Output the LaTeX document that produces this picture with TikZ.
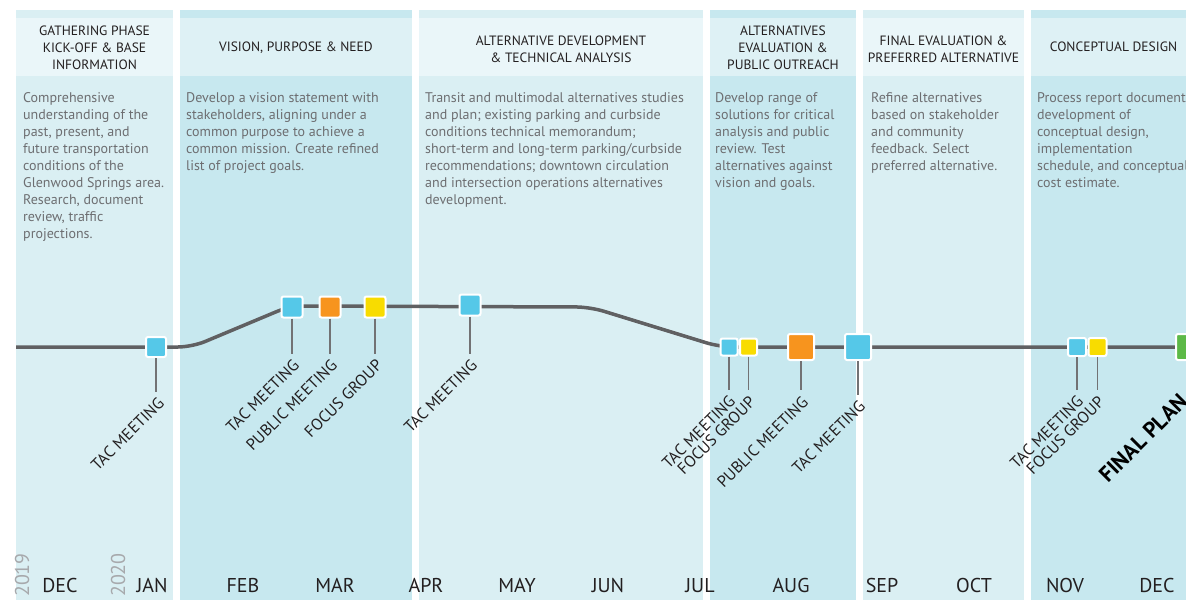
\documentclass[tikz,border=0pt]{standalone}
\usepackage{fontspec}
\setmainfont{PT Sans}
\definecolor{colLight}{HTML}{DAEFF3}
\definecolor{colDark}{HTML}{C7E8EF}
\definecolor{hdrLight}{HTML}{EAF6F9}
\definecolor{hdrDark}{HTML}{DEF1F5}
\definecolor{lineGray}{HTML}{606062}
\definecolor{leadGray}{HTML}{727274}
\definecolor{tacBlue}{HTML}{55C8E8}
\definecolor{pubOrange}{HTML}{F7941E}
\definecolor{focYellow}{HTML}{F8DC00}
\definecolor{finGreen}{HTML}{5CB947}
\definecolor{txtDark}{HTML}{231F20}
\definecolor{txtBody}{HTML}{6D6E71}
\definecolor{txtYear}{HTML}{A7A9AC}
\tikzset{
  mk/.style={draw=white, line width=2pt, rounded corners=2pt, minimum size=#1, inner sep=0pt},
  leader/.style={draw=leadGray, line width=1.3pt},
  lbl/.style={rotate=45, anchor=north east, inner sep=0pt, text=txtDark, font=\fontsize{16.2}{16.2}\selectfont},
  hdr/.style={align=center, anchor=north, inner sep=0pt, text=txtDark, font=\fontsize{13.5}{16.7}\selectfont},
  body/.style={align=left, anchor=north west, inner sep=0pt, text=txtBody, font=\fontsize{14}{17}\selectfont},
  month/.style={anchor=base, inner sep=0pt, text=txtDark, font=\fontsize{20}{20}\selectfont},
  year/.style={rotate=90, anchor=base west, inner sep=0pt, text=txtYear, font=\fontsize{20}{20}\selectfont},
}
\begin{document}
\begin{tikzpicture}[x=1pt,y=-1pt]
\useasboundingbox (0,0) rectangle (1186,600);
\clip (0,0) rectangle (1186,600);
% columns
\fill[colLight] (16,10) rectangle (173,600);
\fill[colDark] (180,10) rectangle (412,600);
\fill[colLight] (419,10) rectangle (703,600);
\fill[colDark] (710,10) rectangle (856,600);
\fill[colLight] (863,10) rectangle (1024,600);
\fill[colDark] (1031,10) rectangle (1196,600);
% header cells
\fill[hdrLight] (16,18) rectangle (173,76);
\fill[hdrDark] (180,18) rectangle (412,76);
\fill[hdrLight] (419,18) rectangle (703,76);
\fill[hdrDark] (710,18) rectangle (856,76);
\fill[hdrLight] (863,18) rectangle (1024,76);
\fill[hdrDark] (1031,18) rectangle (1196,76);
% headers
\node[hdr] (h1) at (94.5,26) {GATHERING PHASE\\KICK-OFF \& BASE\\INFORMATION};
\node[hdr] (h2) at (296,42) {VISION, PURPOSE \& NEED};
\node[hdr] (h3) at (561,36) {ALTERNATIVE DEVELOPMENT\\\& TECHNICAL ANALYSIS};
\node[hdr] (h4) at (783,26) {ALTERNATIVES\\EVALUATION \&\\PUBLIC OUTREACH};
\node[hdr] (h5) at (943.5,36) {FINAL EVALUATION \&\\PREFERRED ALTERNATIVE};
\node[hdr] (h6) at (1113.5,42) {CONCEPTUAL DESIGN};
% body texts
\node[body] (b1) at (23,92) {Comprehensive\\understanding of the\\past, present, and\\future transportation\\conditions of the\\Glenwood Springs area.\\Research, document\\review, traffic\\projections.};
\node[body] (b2) at (186,92) {Develop a vision statement with\\stakeholders, aligning under a\\common purpose to achieve a\\common mission. Create refined\\list of project goals.};
\node[body] (b3) at (425,92) {Transit and multimodal alternatives studies\\and plan; existing parking and curbside\\conditions technical memorandum;\\short-term and long-term parking/curbside\\recommendations; downtown circulation\\and intersection operations alternatives\\development.};
\node[body] (b4) at (715,92) {Develop range of\\solutions for critical\\analysis and public\\review. Test\\alternatives against\\vision and goals.};
\node[body] (b5) at (871,92) {Refine alternatives\\based on stakeholder\\and community\\feedback. Select\\preferred alternative.};
\node[body] (b6) at (1037,92) {Process report document\\development of\\conceptual design,\\implementation\\schedule, and conceptual\\cost estimate.};
% timeline
\coordinate (tlA) at (16,347);
\coordinate (tlZ) at (1200,347);
\draw[lineGray, line width=3.5pt, rounded corners=14pt] (tlA) -- (192,347) -- (290,306) -- (590,307) -- (720,347) -- (tlZ);
% markers
\node[mk=20pt, fill=tacBlue] (m1) at (156,347) {};
\node[mk=21pt, fill=tacBlue] (m2) at (292,307) {};
\node[mk=21pt, fill=pubOrange] (m3) at (330,307) {};
\node[mk=21pt, fill=focYellow] (m4) at (375,307) {};
\node[mk=21pt, fill=tacBlue] (m5) at (470,305) {};
\node[mk=17pt, fill=tacBlue] (m6) at (729,347) {};
\node[mk=17pt, fill=focYellow] (m7) at (748.5,347) {};
\node[mk=26pt, fill=pubOrange] (m8) at (801,347) {};
\node[mk=26pt, fill=tacBlue] (m9) at (858,347) {};
\node[mk=18pt, fill=tacBlue] (m10) at (1077,347) {};
\node[mk=18pt, fill=focYellow] (m11) at (1097.5,347) {};
\node[mk=26pt, fill=finGreen] (m12) at (1189,347) {};
% leader ends
\coordinate (e1) at (156,392);
\coordinate (e2) at (292,354);
\coordinate (e3) at (330,354);
\coordinate (e4) at (375,354);
\coordinate (e5) at (470,354);
\coordinate (e6) at (729,390);
\coordinate (e7) at (748,390);
\coordinate (e8) at (801,390);
\coordinate (e9) at (858,395);
\coordinate (e10) at (1077,390);
\coordinate (e11) at (1098,390);
\foreach \i in {1,...,11} {\draw[leader] (m\i.south) -- (m\i.south |- e\i);}
% labels
\node[lbl] (l1) at (157,396) {TAC MEETING};
\node[lbl] (l2) at (292,358) {TAC MEETING};
\node[lbl] (l3) at (330,358) {PUBLIC MEETING};
\node[lbl] (l4) at (375,358) {FOCUS GROUP};
\node[lbl] (l5) at (470,358) {TAC MEETING};
\node[lbl] (l6) at (728,394) {TAC MEETING};
\node[lbl] (l7) at (748,395) {FOCUS GROUP};
\node[lbl] (l8) at (801,395) {PUBLIC MEETING};
\node[lbl] (l9) at (858,399) {TAC MEETING};
\node[lbl] (l10) at (1076,394) {TAC MEETING};
\node[lbl] (l11) at (1097,395) {FOCUS GROUP};
\node[rotate=45, anchor=base west, inner sep=0pt, text=black, font=\bfseries\fontsize{22}{22}\selectfont] (fp) at (1108,484) {FINAL PLAN};
% years
\node[year] (y1) at (29,597) {2019};
\node[year] (y2) at (125,597) {2020};
% months
\node[month] (mo1) at (60,592) {DEC};
\node[month] (mo2) at (152,592) {JAN};
\node[month] (mo3) at (243,592) {FEB};
\node[month] (mo4) at (335,592) {MAR};
\node[month] (mo5) at (426,592) {APR};
\node[month] (mo6) at (517,592) {MAY};
\node[month] (mo7) at (608,592) {JUN};
\node[month] (mo8) at (700,592) {JUL};
\node[month] (mo9) at (791,592) {AUG};
\node[month] (mo10) at (882,592) {SEP};
\node[month] (mo11) at (974,592) {OCT};
\node[month] (mo12) at (1065,592) {NOV};
\node[month] (mo13) at (1157,592) {DEC};
\end{tikzpicture}
\end{document}
